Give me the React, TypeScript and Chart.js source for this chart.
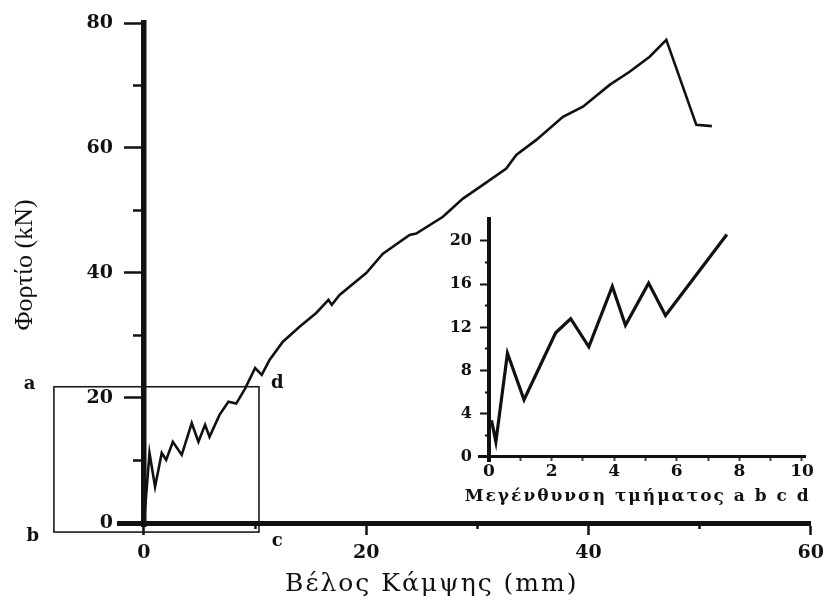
import React, { useEffect, useRef } from 'react';
import { Chart, registerables } from 'chart.js';

Chart.register(...registerables);

// Load–deflection record of the beam (deflection in mm, load in kN)
const deflection = [0, 0.5, 1.0, 1.6, 2.0, 2.6, 3.4, 4.3, 4.9, 5.5, 5.9, 6.8, 7.6, 8.3, 9.1, 10.0, 10.6, 11.3, 12.5, 14.0, 15.5, 16.6, 16.9, 17.6, 20.0, 21.5, 23.9, 24.5, 26.9, 28.7, 30.5, 32.6, 33.5, 35.3, 37.7, 39.5, 41.9, 43.7, 45.5, 47.0, 49.7, 51.1];
const load = [0, 11.2, 5.8, 11.2, 10.1, 13.0, 10.9, 16.0, 13.0, 15.7, 13.8, 17.3, 19.4, 19.1, 21.5, 24.8, 23.7, 26.1, 29.0, 31.4, 33.6, 35.7, 34.9, 36.5, 40.0, 43.1, 46.1, 46.3, 49.0, 51.9, 54.1, 56.7, 58.9, 61.3, 65.0, 66.6, 70.1, 72.2, 74.6, 77.3, 63.7, 63.5];

// Enlarged initial part (segment a-b-c-d)
const insetDeflection = [0.08, 0.22, 0.59, 1.12, 2.13, 2.61, 3.19, 3.94, 4.36, 5.1, 5.64, 7.6];
const insetLoad = [3.4, 1.4, 9.6, 5.3, 11.5, 12.8, 10.2, 15.8, 12.2, 16.1, 13.1, 20.6];

// Axis ticks
const mainXTicks = [0, 10, 20, 30, 40, 50, 60];
const mainXLabels = [0, 20, 40, 60];
const mainYTicks = [0, 10, 20, 30, 40, 50, 60, 70, 80];
const mainYLabels = [0, 20, 40, 60, 80];
const insetXTicks = [0, 1, 2, 3, 4, 5, 6, 7, 8, 9, 10];
const insetXLabels = [0, 2, 4, 6, 8, 10];
const insetYTicks = [0, 2, 4, 6, 8, 10, 12, 14, 16, 18, 20];
const insetYLabels = [0, 4, 8, 12, 16, 20];

// Zoom window a-b-c-d on the main axes (data units) and its corner letters
const zoomBoxX = [-8.1, 10.35];
const zoomBoxY = [-1.45, 21.8];
const cornerNames = ['a', 'b', 'c', 'd'];
const cornerX = [-10.3, -10.0, 12.0, 12.0];
const cornerY = [22.2, -2.2, -2.9, 22.4];

const W = 834;
const H = 605;
const INK = '#111111';
const tickFont = { family: '"DejaVu Serif", serif', weight: 'bold' as const };

const isIn = (list: number[], v: any) => list.includes(Number(v));
const fixTicks = (list: number[]) => (s: any) => {
  s.ticks = list.map((value) => ({ value }));
};

function mainOptions(): any {
  return {
    animation: false,
    responsive: false,
    maintainAspectRatio: false,
    layout: { padding: { left: 59.5, right: 23, top: 23, bottom: 78.25 } },
    plugins: { legend: { display: false }, tooltip: { enabled: false } },
    scales: {
      x: {
        type: 'linear',
        min: -2.2,
        max: 60,
        position: { y: 0 },
        afterBuildTicks: fixTicks(mainXTicks),
        grid: {
          drawOnChartArea: false,
          drawTicks: true,
          tickLength: 9,
          tickWidth: 2.5,
          tickColor: INK,
          tickBorderDash: (ctx: any) => (ctx.tick && isIn(mainXLabels, ctx.tick.value) ? [] : [3, 100]),
        },
        border: { display: true, width: 5, color: INK },
        ticks: {
          autoSkip: false,
          maxRotation: 0,
          padding: 10,
          color: INK,
          font: { ...tickFont, size: 19 },
          callback: (v: any) => (isIn(mainXLabels, v) ? String(v) : ''),
        },
      },
      y: {
        type: 'linear',
        min: -0.6,
        max: 80,
        position: { x: 0 },
        afterBuildTicks: fixTicks(mainYTicks),
        grid: {
          drawOnChartArea: false,
          drawTicks: true,
          tickLength: 17,
          tickWidth: 2.5,
          tickColor: INK,
          tickBorderDash: (ctx: any) => (ctx.tick && isIn(mainYLabels, ctx.tick.value) ? [] : [8, 100]),
        },
        border: { display: true, width: 5.5, color: INK },
        ticks: { display: false },
      },
      // tick numbers of the load axis, set in the left margin
      yText: {
        type: 'linear',
        min: -0.6,
        max: 80,
        position: 'left',
        afterBuildTicks: fixTicks(mainYLabels),
        afterFit: (s: any) => {
          s.width = 60;
        },
        grid: { display: false, drawTicks: false },
        border: { display: false },
        ticks: {
          autoSkip: false,
          padding: 6.5,
          color: INK,
          font: { ...tickFont, size: 19 },
          callback: (v: any) => String(v),
        },
      },
    },
  };
}

// Axis titles, the a-b-c-d window and its letters
const mainDecor = {
  id: 'mainDecor',
  afterDraw(chart: any) {
    const { ctx, scales } = chart;
    const x = scales.x;
    const y = scales.y;
    ctx.save();
    ctx.fillStyle = INK;
    ctx.strokeStyle = '#1a1a1a';

    // window
    ctx.lineWidth = 1.6;
    const x0 = x.getPixelForValue(zoomBoxX[0]);
    const x1 = x.getPixelForValue(zoomBoxX[1]);
    const y0 = y.getPixelForValue(zoomBoxY[1]);
    const y1 = y.getPixelForValue(zoomBoxY[0]);
    ctx.strokeRect(x0, y0, x1 - x0, y1 - y0);

    ctx.font = 'bold 18px "DejaVu Serif", serif';
    ctx.textAlign = 'center';
    ctx.textBaseline = 'middle';
    cornerNames.forEach((n, i) => {
      ctx.fillText(n, x.getPixelForValue(cornerX[i]), y.getPixelForValue(cornerY[i]));
    });

    // x title
    ctx.font = '25px "DejaVu Serif", serif';
    ctx.textBaseline = 'alphabetic';
    (ctx as any).letterSpacing = '2px';
    ctx.fillText('Βέλος Κάμψης (mm)', x.getPixelForValue(25.9), 591);
    (ctx as any).letterSpacing = '0px';

    // y title
    ctx.save();
    ctx.translate(25, y.getPixelForValue(41.3));
    ctx.rotate(-Math.PI / 2);
    ctx.font = '26px "Liberation Serif", serif';
    ctx.textBaseline = 'middle';
    ctx.fillText('Φορτίο (kN)', 0, 0);
    ctx.restore();

    ctx.restore();
  },
};

function insetOptions(): any {
  return {
    animation: false,
    responsive: false,
    maintainAspectRatio: false,
    layout: { padding: { left: 419.6, right: 28.9, top: 219.4, bottom: 143.7 } },
    plugins: { legend: { display: false }, tooltip: { enabled: false } },
    scales: {
      x: {
        type: 'linear',
        min: -0.3,
        max: 10.1,
        position: { y: 0 },
        afterBuildTicks: fixTicks(insetXTicks),
        grid: {
          drawOnChartArea: false,
          drawTicks: true,
          tickLength: 3,
          tickWidth: 2,
          tickColor: '#444',
        },
        border: { display: true, width: 3, color: INK },
        ticks: {
          autoSkip: false,
          maxRotation: 0,
          padding: 1,
          color: INK,
          font: { ...tickFont, size: 17 },
          callback: (v: any) => (isIn(insetXLabels, v) ? String(v) : ''),
        },
      },
      y: {
        type: 'linear',
        min: -0.4,
        max: 22,
        position: { x: 0 },
        afterBuildTicks: fixTicks(insetYTicks),
        grid: {
          drawOnChartArea: false,
          drawTicks: true,
          tickLength: 7,
          tickWidth: 2,
          tickColor: INK,
          tickBorderDash: (ctx: any) => (ctx.tick && isIn(insetYLabels, ctx.tick.value) ? [] : [2, 100]),
        },
        border: { display: true, width: 4, color: INK },
        ticks: { display: false },
      },
      yText: {
        type: 'linear',
        min: -0.4,
        max: 22,
        position: 'left',
        afterBuildTicks: fixTicks(insetYLabels),
        afterFit: (s: any) => {
          s.width = 60;
        },
        grid: { display: false, drawTicks: false },
        border: { display: false },
        ticks: {
          autoSkip: false,
          padding: 7.6,
          color: INK,
          font: { ...tickFont, size: 16 },
          callback: (v: any) => String(v),
        },
      },
    },
  };
}

const insetDecor = {
  id: 'insetDecor',
  afterDraw(chart: any) {
    const { ctx, scales } = chart;
    ctx.save();
    ctx.fillStyle = INK;
    ctx.font = 'bold 17px "DejaVu Serif", serif';
    (ctx as any).letterSpacing = '2px';
    ctx.textAlign = 'center';
    ctx.textBaseline = 'alphabetic';
    ctx.fillText('Μεγένθυνση τμήματος a b c d', scales.x.getPixelForValue(4.75), 501);
    ctx.restore();
  },
};

export default function App() {
  const mainRef = useRef<HTMLCanvasElement | null>(null);
  const insetRef = useRef<HTMLCanvasElement | null>(null);

  useEffect(() => {
    if (!mainRef.current || !insetRef.current) return;
    const main = new Chart(mainRef.current, {
      type: 'line',
      data: {
        datasets: [
          {
            data: deflection.map((x, i) => ({ x, y: load[i] })),
            borderColor: INK,
            borderWidth: 2.6,
            pointRadius: 0,
            tension: 0,
            fill: false,
            yAxisID: 'y',
          },
        ],
      },
      options: mainOptions(),
      plugins: [mainDecor],
    });
    const inset = new Chart(insetRef.current, {
      type: 'line',
      data: {
        datasets: [
          {
            data: insetDeflection.map((x, i) => ({ x, y: insetLoad[i] })),
            borderColor: INK,
            borderWidth: 3.2,
            pointRadius: 0,
            tension: 0,
            fill: false,
            yAxisID: 'y',
          },
        ],
      },
      options: insetOptions(),
      plugins: [insetDecor],
    });
    return () => {
      main.destroy();
      inset.destroy();
    };
  }, []);

  const canvasStyle: React.CSSProperties = { position: 'absolute', left: 0, top: 0, width: W, height: H };
  return (
    <div style={{ position: 'fixed', left: 0, top: 0, width: W, height: H, background: '#ffffff' }}>
      <canvas ref={mainRef} width={W} height={H} style={canvasStyle} />
      <canvas ref={insetRef} width={W} height={H} style={canvasStyle} />
    </div>
  );
}
